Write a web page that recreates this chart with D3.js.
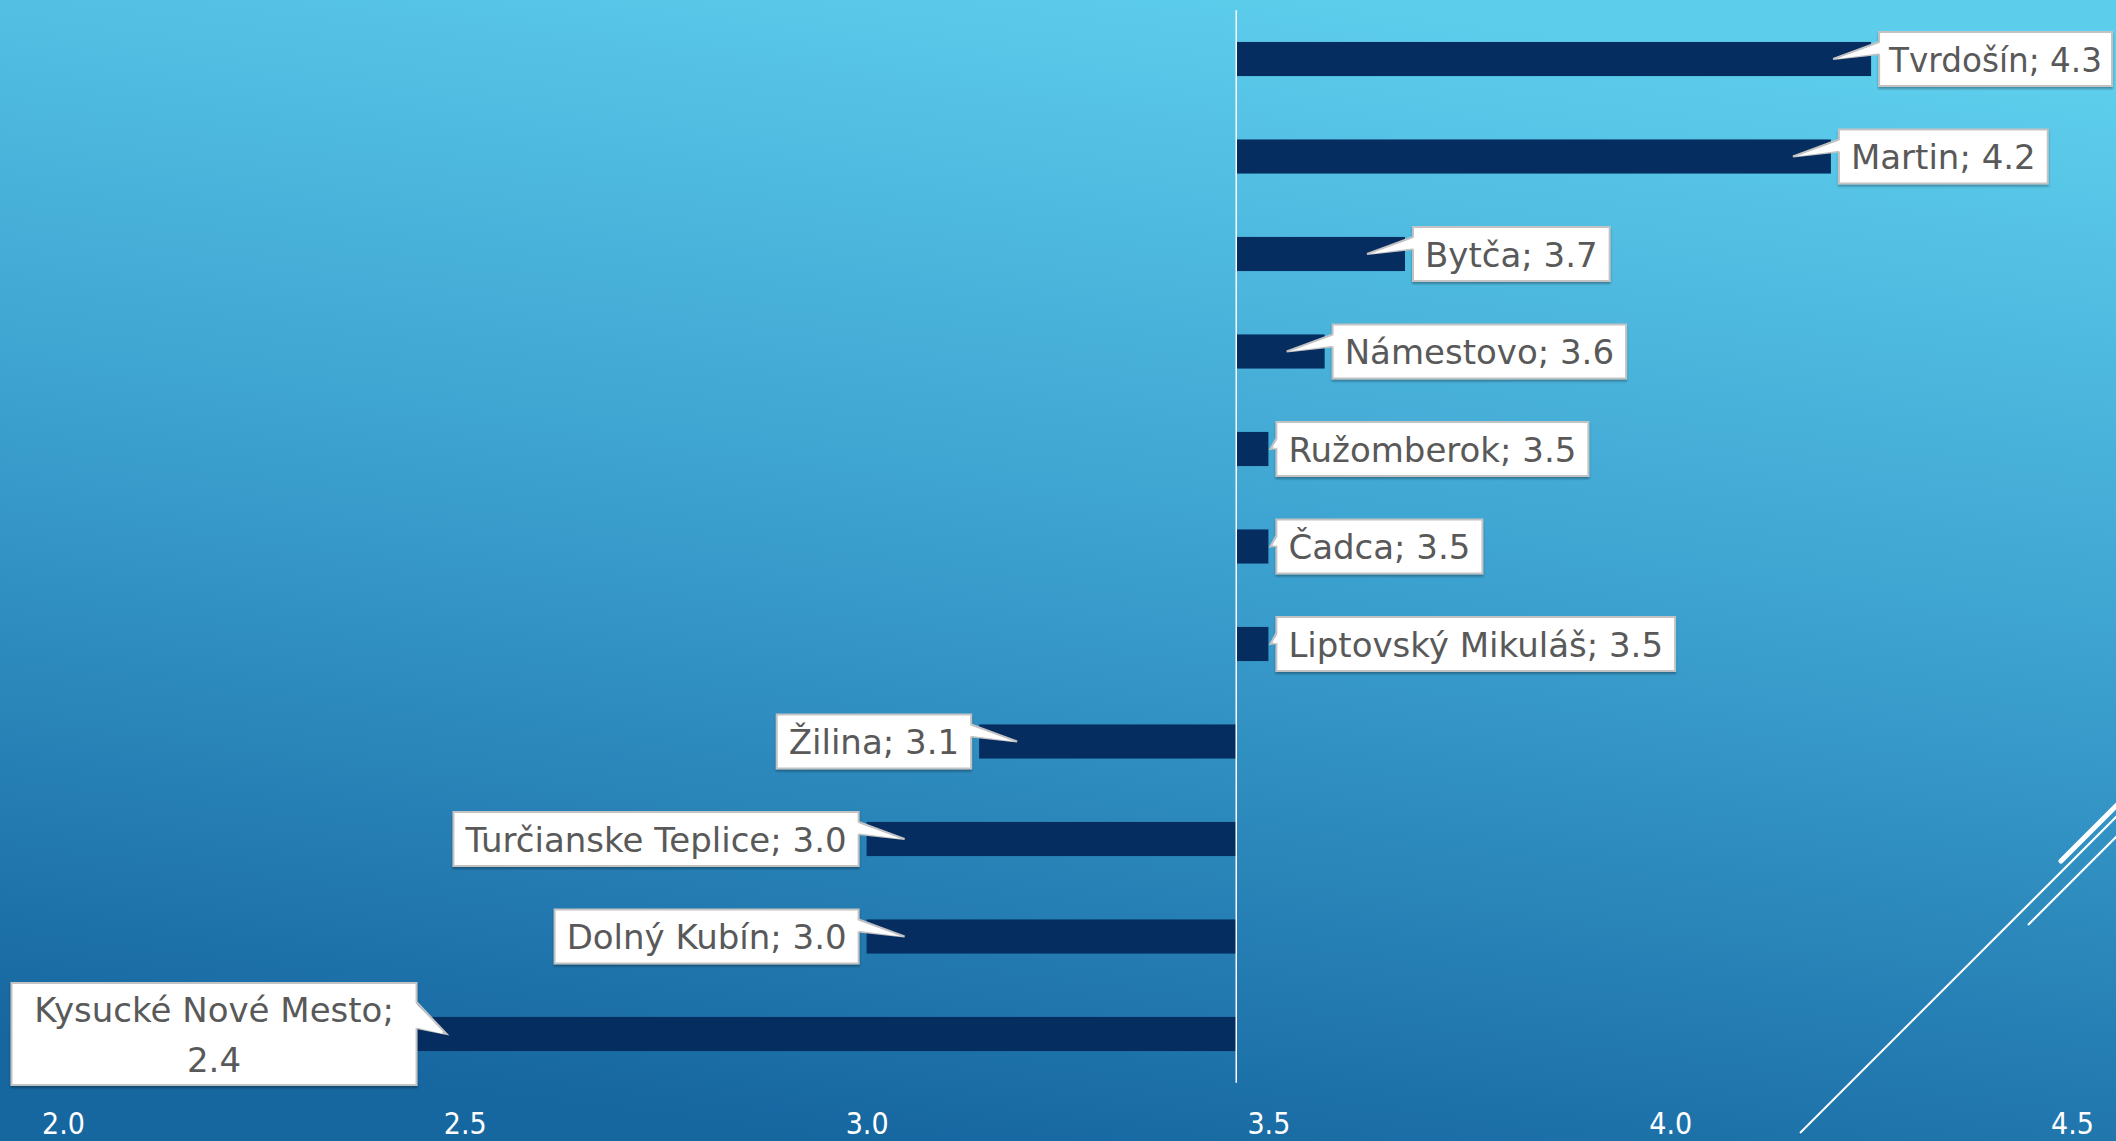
<!DOCTYPE html>
<html><head><meta charset="utf-8">
<script src="https://cdn.jsdelivr.net/npm/d3@7"></script>
<style>html,body{margin:0;padding:0;overflow:hidden;background:#1767a1}</style>
</head><body>
<script>
const categories = ["Tvrdošín","Martin","Bytča","Námestovo","Ružomberok","Čadca","Liptovský Mikuláš","Žilina","Turčianske Teplice","Dolný Kubín","Kysucké Nové Mesto"];
const values = [4.25,4.20,3.67,3.57,3.50,3.50,3.50,3.14,3.00,3.00,2.43];
const tickValues = [2.0,2.5,3.0,3.5,4.0,4.5];
const baseline = 3.46;

const W = 2116, H = 1141;
const data = categories.map((c,i)=>({c, v: values[i]}));

const svg = d3.select("body").append("svg").attr("width",W).attr("height",H);
const defs = svg.append("defs");
const grad = defs.append("linearGradient").attr("id","bg")
  .attr("x1","0.62").attr("y1","0").attr("x2","0.38").attr("y2","1");
grad.append("stop").attr("offset","0").attr("stop-color","#5dcdec");
grad.append("stop").attr("offset","0.5").attr("stop-color","#3a9ecd");
grad.append("stop").attr("offset","1").attr("stop-color","#1666a0");
const shadow = defs.append("filter").attr("id","sh").attr("x","-5%").attr("y","-10%").attr("width","110%").attr("height","130%");
shadow.append("feDropShadow").attr("dx",0).attr("dy",2).attr("stdDeviation",1.2).attr("flood-color","#000").attr("flood-opacity",0.3);

svg.append("rect").attr("width",W).attr("height",H).attr("fill","url(#bg)");

// decorative lines
const deco = svg.append("g").attr("stroke","#fff").attr("fill","none");
deco.append("line").attr("x1",1800).attr("y1",1133).attr("x2",2125).attr("y2",808).attr("stroke-width",2);
deco.append("line").attr("x1",2028).attr("y1",925).attr("x2",2125).attr("y2",828).attr("stroke-width",2);
deco.append("line").attr("x1",2061).attr("y1",861).attr("x2",2125).attr("y2",797).attr("stroke-width",5).attr("stroke-linecap","round");

const x = d3.scaleLinear().domain([2,4.5]).range([63,2072]);
const y = d3.scaleBand().domain(categories).range([10.25,1082.75]).paddingInner(0.65).paddingOuter(0.325);

// bars
svg.append("g").selectAll("rect").data(data).join("rect")
  .attr("x", d=>Math.min(x(d.v), x(baseline)))
  .attr("y", d=>y(d.c))
  .attr("width", d=>Math.abs(x(d.v)-x(baseline)))
  .attr("height", y.bandwidth())
  .attr("fill","#052d60");

// baseline
svg.append("line")
  .attr("x1",x(baseline)).attr("x2",x(baseline))
  .attr("y1",y.range()[0]).attr("y2",y.range()[1])
  .attr("stroke","#fff").attr("stroke-width",1.5);

// axis
const ax = svg.append("g").attr("transform","translate(0,1123)")
  .call(d3.axisBottom(x).tickValues(tickValues).tickSize(0).tickPadding(0).tickFormat(d3.format(".1f")));
ax.select(".domain").remove();
ax.selectAll("text").attr("y",0).attr("dy","0.36em")
  .attr("fill","#fff")
  .style("font-family","'DejaVu Sans Condensed','DejaVu Sans',sans-serif")
  .style("font-stretch","condensed")
  .style("font-size","30px");

// callouts
const labG = svg.append("g");
const FONT = "34px";
data.forEach(d=>{
  const yc = y(d.c) + y.bandwidth()/2;
  const right = d.v >= baseline;
  const barEnd = x(d.v);
  const barLen = Math.abs(barEnd - x(baseline));
  const g = labG.append("g");
  const label = `${d.c}; ${d.v.toFixed(1)}`;
  const meas = g.append("text").style("font-family","'DejaVu Sans',sans-serif").style("font-size",FONT).text(label);
  let tw = meas.node().getComputedTextLength();
  meas.remove();
  let lines = [label];
  let bw = tw + 24, bx, bh = 54;
  let fitLen = null;
  if (right) bx = barEnd + 8; else bx = barEnd - 8 - bw;
  if (right && bx + bw > W - 4) {
    bw = W - 4 - bx;
    fitLen = bw - 20;
  }
  if (bx < 11) {
    lines = [`${d.c};`, d.v.toFixed(1)];
    bx = 11.5;
    bw = (barEnd + 8) - bx;
    bh = 102;
  }
  const by = yc - bh/2;
  const off = barLen > 60 ? 38 : -2;
  const tipX = right ? barEnd - off : barEnd + off;
  let y1, y2;
  if (lines.length > 1) { y1 = yc - 32; y2 = yc - 6; }
  else if (barLen > 60) { y1 = yc - 17; y2 = yc - 5; }
  else { y1 = yc - 11; y2 = yc - 1; }
  const edgeX = right ? bx : bx + bw;
  const inX = right ? edgeX + 2 : edgeX - 2;

  g.append("rect").attr("x",bx).attr("y",by).attr("width",bw).attr("height",bh)
    .attr("fill","#fff").attr("stroke","#c3c3c3").attr("stroke-width",2).attr("filter","url(#sh)");
  g.append("path").attr("d",`M${inX},${y1}L${tipX},${yc}L${inX},${y2}Z`).attr("fill","#fff");
  g.append("path").attr("d",`M${edgeX},${y1}L${tipX},${yc}L${edgeX},${y2}`)
    .attr("fill","none").attr("stroke","#c3c3c3").attr("stroke-width",2).attr("stroke-linejoin","miter");
  g.append("path").attr("d",`M${inX},${y1+1}L${tipX+(right?3:-3)},${yc}L${inX},${y2-1}Z`).attr("fill","#fff");
  lines.forEach((ln,i)=>{
    const t = g.append("text")
      .attr("x", bx + bw/2)
      .attr("y", by + bh/2 + (i - (lines.length-1)/2)*50 + 1)
      .attr("dy","0.35em")
      .attr("text-anchor","middle")
      .attr("fill","#595959")
      .style("font-family","'DejaVu Sans',sans-serif")
      .style("font-size",FONT)
      .text(ln);
    if (fitLen) t.attr("textLength", fitLen).attr("lengthAdjust","spacingAndGlyphs");
  });
});
</script>
</body></html>
